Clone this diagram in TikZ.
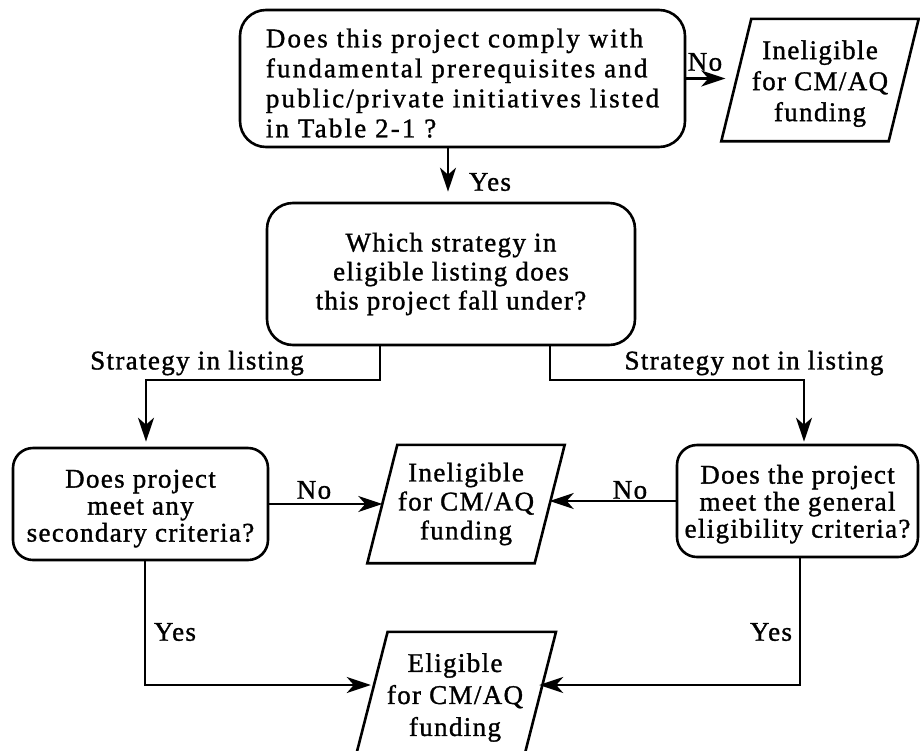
\documentclass[tikz,border=0pt]{standalone}
\usepackage{fontspec}
\setmainfont{Liberation Serif}[LetterSpace=5,FakeBold=1.2]
\newfontfamily\widefont{Liberation Serif}[LetterSpace=8,FakeBold=1.2]
\usetikzlibrary{arrows.meta,calc}

% draws a right-leaning parallelogram around a (borderless) node
\newcommand\paraedge[2]{%
  \draw[frame] ([xshift=#2]#1.north west) -- ([xshift=#2]#1.north east)
    -- ([xshift=-#2]#1.south east) -- ([xshift=-#2]#1.south west) -- cycle;}
% extra head room on a first line, pushing a centred block downwards
\newcommand\toproom[1]{\rule{0pt}{#1}}

\begin{document}
\begin{tikzpicture}[x=1pt,y=-1pt,
  frame/.style={draw, line width=2.6pt, line join=miter},
  qbox/.style={draw, line width=2.6pt, rounded corners=#1, inner sep=0pt,
    align=center, font=\fontsize{27}{27}\selectfont},
  qbox/.default=20pt,
  outcome/.style={inner sep=0pt, align=center, font=\fontsize{27}{31}\selectfont},
  lbl/.style={inner sep=0pt, font=\fontsize{27}{28}\selectfont},
  link/.style={line width=2.4pt, -{Stealth[length=24pt,width=16pt,inset=7pt]}},
]
\useasboundingbox (0,0) rectangle (920,750);
\clip (0,0) rectangle (920,750);

% decision boxes
\node[qbox=26pt, minimum width=445pt, minimum height=137pt, align=left,
      font=\widefont\fontsize{27}{30}\selectfont] (q1) at (462.5,78.5)
  {\toproom{28pt}Does this project comply with\\fundamental prerequisites and\\public/private initiatives listed\\in Table 2-1 ?};
\node[qbox=26pt, minimum width=368pt, minimum height=142pt,
      font=\fontsize{27}{29}\selectfont] (q2) at (451,274)
  {Which strategy in\\eligible listing does\\this project fall under?};
\node[qbox, minimum width=255pt, minimum height=112pt] (q3) at (140.5,504)
  {\toproom{27pt}Does project\\meet any\\secondary criteria?};
\node[qbox, minimum width=241pt, minimum height=112pt] (q4) at (797.5,501)
  {\toproom{25pt}Does the project\\meet the general\\eligibility criteria?};

% outcomes
\node[outcome, minimum width=167pt, minimum height=122pt] (inel1) at (820,80)
  {\toproom{26pt}Ineligible\\for CM/AQ\\funding};
\paraedge{inel1}{15pt}
\node[outcome, minimum width=167pt, minimum height=118pt,
      font=\fontsize{27}{29}\selectfont] (inel2) at (466,504)
  {Ineligible\\for CM/AQ\\funding};
\paraedge{inel2}{15pt}
\node[outcome, minimum width=168pt, minimum height=131pt,
      font=\fontsize{27}{32}\selectfont, yshift=-3pt] (elig) at (455,694.5)
  {Eligible\\for CM/AQ\\funding};
\paraedge{elig}{16.8pt}

% routing points
\coordinate (ya) at (448,0);
\coordinate (bl) at (380,380);
\coordinate (jl) at (146,380);
\coordinate (br) at (550,380);
\coordinate (jr) at (804,380);
\coordinate (dl) at (145,685);
\coordinate (dr) at (800,685);

% connectors
\draw[link, shorten >=11pt] (q1.east) -- (q1.east -| inel1.west);
\draw[link] (q1.south -| ya) -- ([yshift=10pt]q2.north -| ya);
\draw[link, shorten >=5pt] (q2.south -| bl) -- (bl) -- (jl) -- (q3.north -| jl);
\draw[link, shorten >=2pt] (q2.south -| br) -- (br) -- (jr) -- (q4.north -| jr);
\draw[link] (q3.east) -- (q3.east -| inel2.west);
\draw[link] (q4.west) -- (q4.west -| inel2.east);
\draw[link] (q3.south -| dl) -- (dl) -- (dl -| elig.west);
\draw[link] (q4.south -| dr) -- (dr) -- (dr -| elig.east);

% branch labels
\node[lbl] (n1) at (705,62) {No};
\node[lbl] (y1) at (490,182) {Yes};
\node[lbl] (s1) at (197,363) {Strategy in listing};
\node[lbl] (s2) at (754,363) {Strategy not in listing};
\node[lbl] (n2) at (314,490) {No};
\node[lbl] (n3) at (630,490) {No};
\node[lbl] (y2) at (175,632) {Yes};
\node[lbl] (y3) at (771,632) {Yes};
\end{tikzpicture}
\end{document}
